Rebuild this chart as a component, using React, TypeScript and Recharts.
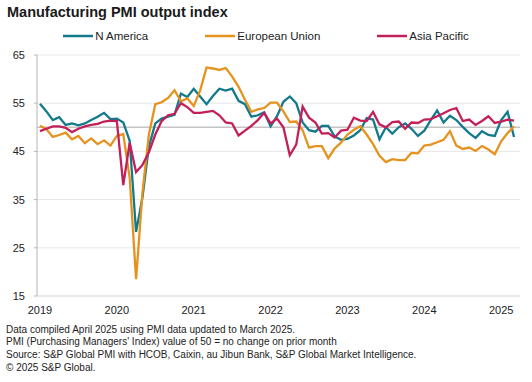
import React from 'react';
import { LineChart, Line, XAxis, YAxis, CartesianGrid, ReferenceLine, Legend } from 'recharts';

// Monthly categories, Jan 2019 .. Mar 2025
const months: string[] = [
  '2019-01','2019-02','2019-03','2019-04','2019-05','2019-06','2019-07','2019-08','2019-09','2019-10','2019-11','2019-12',
  '2020-01','2020-02','2020-03','2020-04','2020-05','2020-06','2020-07','2020-08','2020-09','2020-10','2020-11','2020-12',
  '2021-01','2021-02','2021-03','2021-04','2021-05','2021-06','2021-07','2021-08','2021-09','2021-10','2021-11','2021-12',
  '2022-01','2022-02','2022-03','2022-04','2022-05','2022-06','2022-07','2022-08','2022-09','2022-10','2022-11','2022-12',
  '2023-01','2023-02','2023-03','2023-04','2023-05','2023-06','2023-07','2023-08','2023-09','2023-10','2023-11','2023-12',
  '2024-01','2024-02','2024-03','2024-04','2024-05','2024-06','2024-07','2024-08','2024-09','2024-10','2024-11','2024-12',
  '2025-01','2025-02','2025-03',
];

const nAmerica: number[] = [
  54.9, 53.3, 51.5, 52.1, 50.5, 50.8, 50.4, 50.8, 51.5, 52.2, 53.0, 51.7,
  51.8, 51.0, 47.2, 28.3, 35.5, 46.0, 50.8, 51.8, 52.2, 52.6, 57.0, 56.3,
  58.0, 56.4, 54.8, 56.5, 58.0, 57.6, 58.0, 55.5, 54.8, 52.2, 52.5, 53.1,
  50.2, 52.3, 55.3, 56.4, 55.0, 51.0, 49.4, 49.1, 50.3, 50.3, 48.1, 47.4,
  47.6, 48.3, 49.4, 51.9, 51.6, 47.5, 50.0, 48.7, 50.0, 50.8, 49.7, 48.2,
  49.3, 51.5, 53.5, 51.0, 52.4, 51.5, 50.1, 48.8, 47.8, 49.2, 48.4, 48.2,
  51.5, 53.2, 48.0,
];

const europeanUnion: number[] = [
  50.3, 49.6, 48.0, 48.4, 48.9, 47.5, 48.2, 46.7, 47.7, 46.5, 47.3, 46.2,
  48.2, 48.6, 39.5, 18.5, 36.5, 48.5, 54.8, 55.2, 56.1, 57.7, 55.4, 56.0,
  54.4, 57.6, 62.4, 62.2, 61.9, 62.3, 60.5, 58.4, 55.7, 53.2, 53.7, 54.0,
  55.1, 55.1, 53.3, 51.1, 51.2, 49.4, 45.8, 46.1, 46.1, 43.6, 45.6, 46.8,
  48.5, 49.5, 50.2, 48.5, 46.5, 44.1, 42.8, 43.4, 43.2, 43.2, 44.7, 44.6,
  46.2, 46.4, 46.9, 47.4, 49.2, 46.2, 45.5, 45.8, 45.1, 46.1, 45.4, 44.4,
  47.1, 48.8, 50.2,
];

const asiaPacific: number[] = [
  49.2, 49.7, 50.2, 50.2, 49.9, 49.0, 49.7, 50.2, 50.5, 50.7, 51.2, 51.4,
  51.3, 38.0, 46.8, 40.7, 42.2, 44.8, 48.5, 51.3, 52.5, 52.8, 55.0, 54.2,
  53.0, 53.0, 53.2, 53.4, 52.5, 51.0, 50.8, 48.3, 49.3, 50.3, 51.5, 53.0,
  50.8, 51.8, 50.0, 44.2, 46.4, 54.3, 52.0, 51.0, 48.7, 48.8, 47.9, 49.3,
  49.5, 52.0, 51.4, 51.3, 53.2, 50.6, 50.0, 51.1, 51.2, 49.7, 51.0, 50.9,
  51.6, 51.7, 52.3, 52.9, 53.6, 54.0, 51.3, 51.6, 50.5, 51.3, 52.3, 50.9,
  51.2, 51.6, 51.4,
];

const yearTickIndex: number[] = [0, 12, 24, 36, 48, 60, 72];
const yearLabels: string[] = ['2019', '2020', '2021', '2022', '2023', '2024', '2025'];
const yTicks: number[] = [15, 25, 35, 45, 55, 65];

const seriesDefs = [
  { key: 'na', name: 'N America', color: '#137a8c' },
  { key: 'eu', name: 'European Union', color: '#e5921e' },
  { key: 'ap', name: 'Asia Pacific', color: '#c31f59' },
];

const data = months.map((m, i) => ({
  i,
  month: m,
  na: nAmerica[i],
  eu: europeanUnion[i],
  ap: asiaPacific[i],
}));

const FONT = "'Liberation Sans', Arial, Helvetica, sans-serif";

const renderLegend = () => (
  <div
    style={{
      display: 'flex',
      justifyContent: 'center',
      alignItems: 'center',
      gap: 57,
      fontFamily: FONT,
      fontSize: 11.5,
      color: '#222',
      whiteSpace: 'nowrap',
    }}
  >
    {seriesDefs.map((s) => (
      <div key={s.key} style={{ display: 'flex', alignItems: 'center' }}>
        <svg width={30} height={4} style={{ display: 'block' }}>
          <line x1={0} y1={2} x2={30} y2={2} stroke={s.color} strokeWidth={2.5} />
        </svg>
        <span style={{ marginLeft: 2 }}>{s.name}</span>
      </div>
    ))}
  </div>
);

export default function App() {
  return (
    <div
      style={{
        position: 'absolute',
        left: 0,
        top: 0,
        width: 532,
        height: 382,
        background: '#ffffff',
        fontFamily: FONT,
        overflow: 'hidden',
      }}
    >
      <div
        style={{
          position: 'absolute',
          left: 7,
          top: 4,
          fontSize: 14.5,
          fontWeight: 'bold',
          color: '#1a1a1a',
          whiteSpace: 'nowrap',
        }}
      >
        Manufacturing PMI output index
      </div>
      <div style={{ position: 'absolute', left: 0, top: 0 }}>
        <LineChart
          width={532}
          height={320}
          data={data}
          margin={{ top: 55, right: 12, left: 0, bottom: 0 }}
        >
          <CartesianGrid vertical={false} stroke="#e6e6e6" />
          <XAxis
            type="number"
            dataKey="i"
            domain={[0, 74]}
            ticks={yearTickIndex}
            interval={0}
            tickFormatter={(v: number) => yearLabels[yearTickIndex.indexOf(v)] ?? ''}
            padding={{ left: 3, right: 6 }}
            height={24}
            tickLine={false}
            tickSize={6}
            tickMargin={4}
            axisLine={{ stroke: '#e0e0e0' }}
            tick={{ fontSize: 11, fill: '#222', fontFamily: FONT }}
          />
          <YAxis
            type="number"
            domain={[15, 65]}
            ticks={yTicks}
            interval={0}
            width={37}
            tickSize={3}
            tickMargin={9}
            axisLine={{ stroke: '#b5b5b5' }}
            tickLine={{ stroke: '#b5b5b5' }}
            tick={{ fontSize: 11, fill: '#222', fontFamily: FONT }}
          />
          <ReferenceLine y={50} stroke="#c4c4c4" strokeWidth={1.5} />
          <Legend
            layout="horizontal"
            verticalAlign="middle"
            align="center"
            content={renderLegend}
            wrapperStyle={{ top: 30, left: 0, width: 532 }}
          />
          {seriesDefs.map((s) => (
            <Line
              key={s.key}
              type="linear"
              dataKey={s.key}
              name={s.name}
              stroke={s.color}
              strokeWidth={2.3}
              dot={false}
              activeDot={false}
              isAnimationActive={false}
            />
          ))}
        </LineChart>
      </div>
      <div
        style={{
          position: 'absolute',
          left: 6,
          top: 323.5,
          fontSize: 10,
          lineHeight: '12.7px',
          color: '#222',
          whiteSpace: 'nowrap',
        }}
      >
        <div>Data compiled April 2025 using PMI data updated to March 2025.</div>
        <div>PMI (Purchasing Managers' Index) value of 50 = no change on prior month</div>
        <div>Source: S&amp;P Global PMI with HCOB, Caixin, au Jibun Bank, S&amp;P Global Market Intelligence.</div>
        <div>© 2025 S&amp;P Global.</div>
      </div>
    </div>
  );
}
